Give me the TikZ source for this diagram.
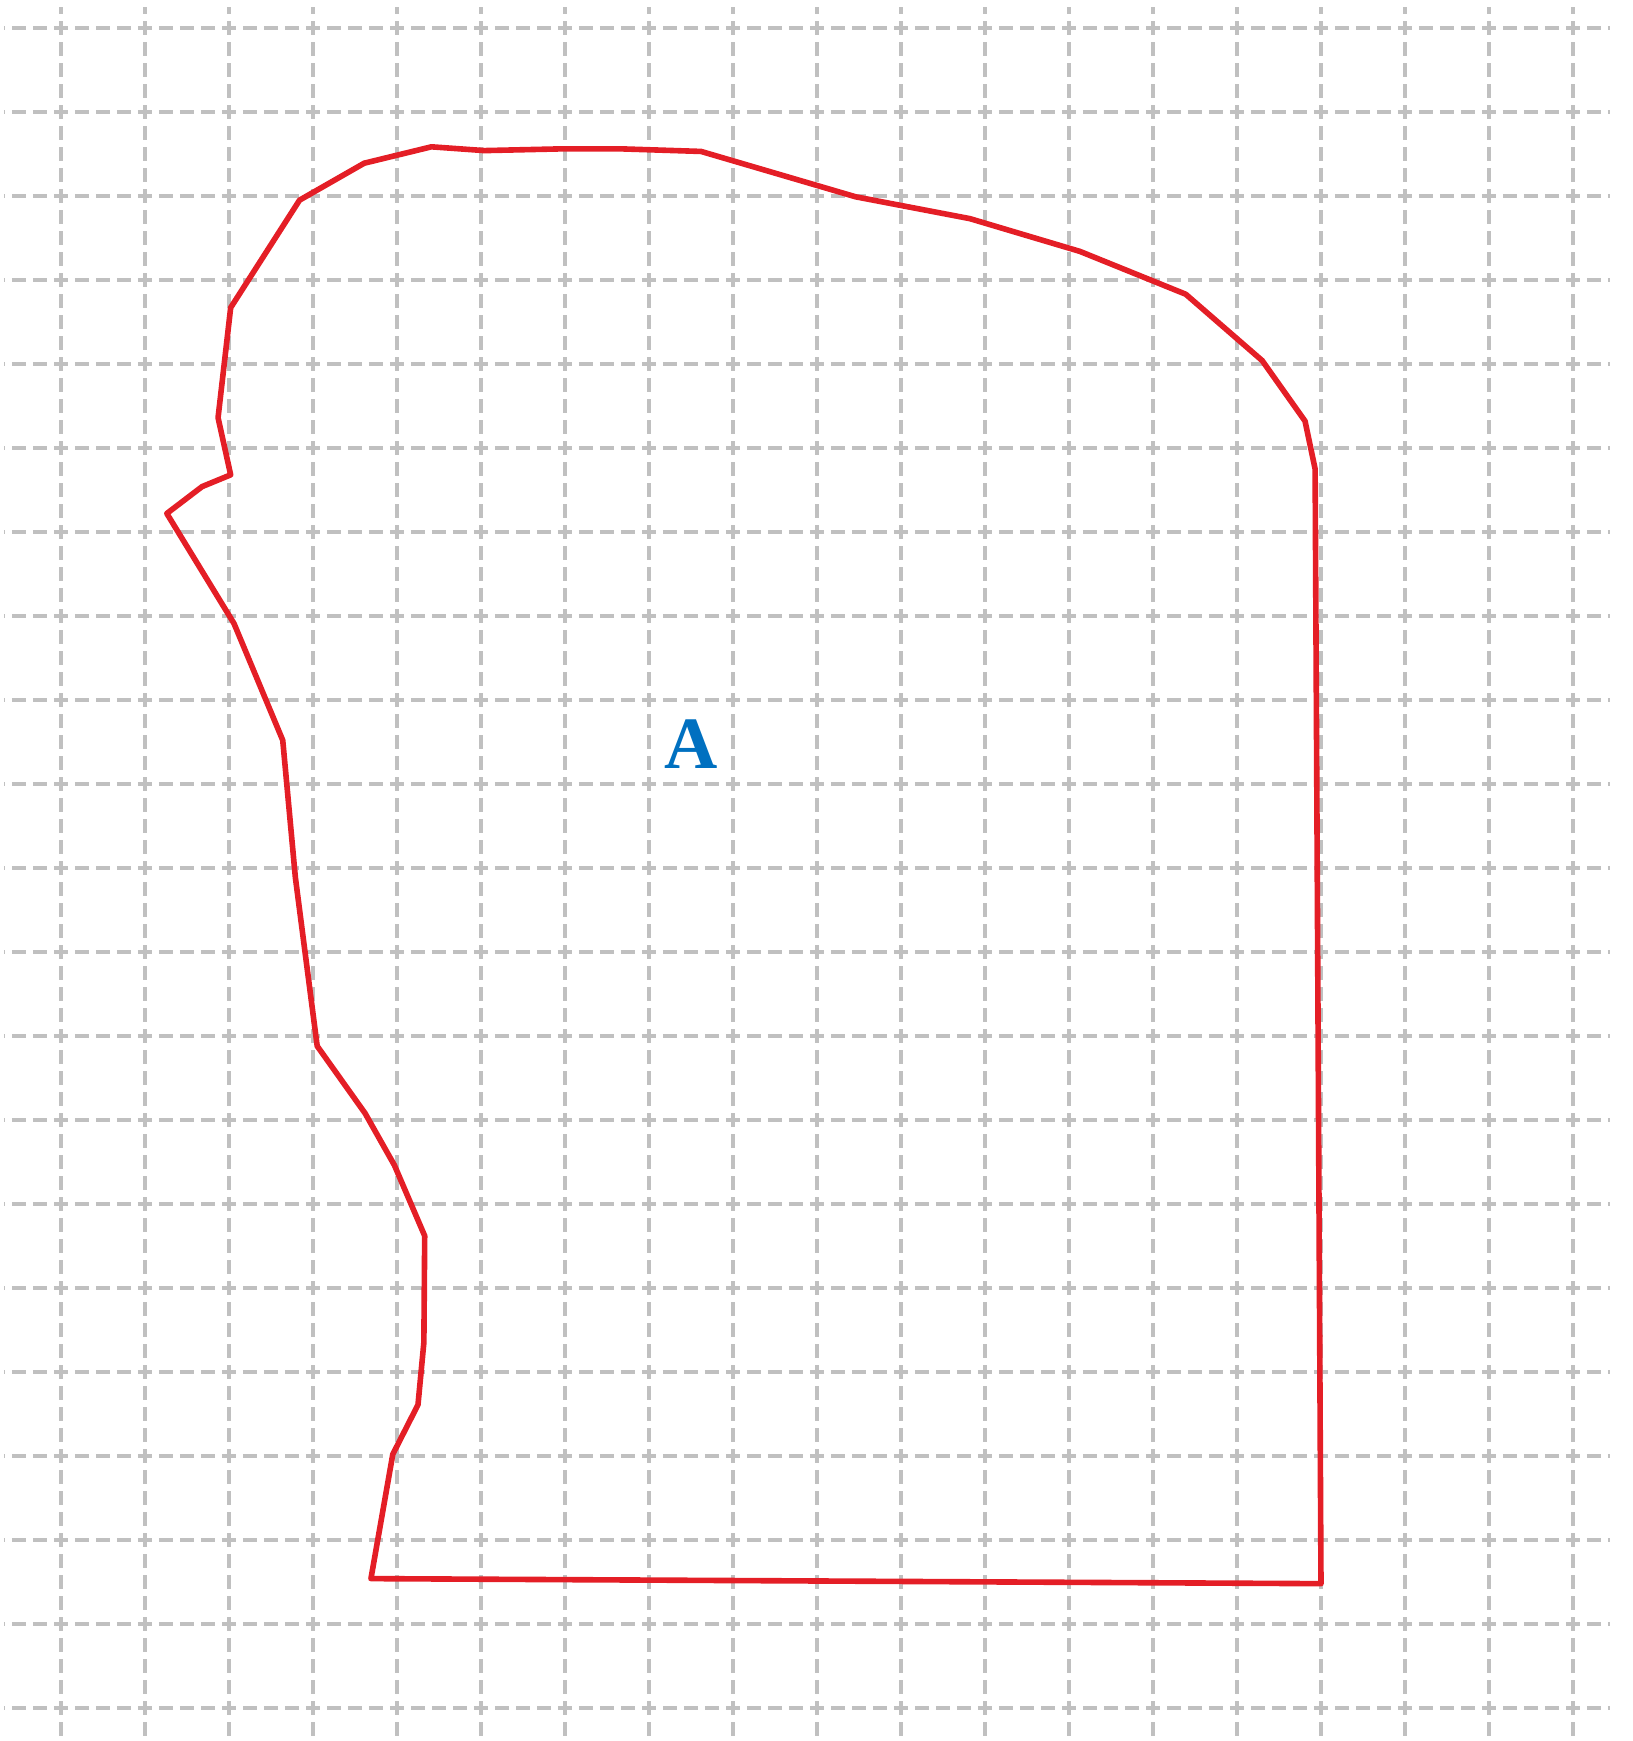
\documentclass[tikz,border=0pt]{standalone}
\usepackage{fontspec}
\setmainfont{Liberation Serif}
\definecolor{grid_grey}{RGB}{192,192,192}
\definecolor{outline_red}{RGB}{228,30,38}
\definecolor{label_blue}{RGB}{0,112,192}

\begin{document}
\begin{tikzpicture}[
    gridline/.style={grid_grey, line width=1.2pt, dash pattern=on 0.17cm off 0.08cm},
    outline/.style={outline_red, line width=1.9pt, line join=round},
    region/.style={text=label_blue, font=\fontsize{25}{25}\selectfont\bfseries}
]
    \useasboundingbox (-0.726,-0.393) rectangle (18.714,20.333);

    % Dashed grid
    \foreach \x in {0,...,18}
        \draw[gridline, dash phase=0cm] (\x,-0.333) -- (\x,20.25);
    \foreach \y in {0,...,20}
        \draw[gridline, dash phase=0.156cm] (-0.679,\y) -- (18.44,\y);

    % Outline of the region
    \draw[outline] (4.41,18.585) -- (5.04,18.54) -- (5.93,18.56) -- (6.69,18.56)
        -- (7.62,18.53) -- (9.46,17.99) -- (10.82,17.73) -- (12.13,17.34)
        -- (13.39,16.83) -- (14.30,16.04) -- (14.81,15.32) -- (14.93,14.75)
        -- (15.00,1.48) -- (3.69,1.54) -- (3.95,3.02) -- (4.25,3.61)
        -- (4.32,4.35) -- (4.33,5.62) -- (3.97,6.46) -- (3.62,7.08)
        -- (3.05,7.88) -- (2.79,9.89) -- (2.64,11.52) -- (2.06,12.91)
        -- (1.26,14.22) -- (1.68,14.54) -- (2.02,14.68) -- (1.87,15.36)
        -- (2.02,16.67) -- (2.84,17.95) -- (3.61,18.39) -- cycle;

    % Label
    \node[region] (lblA) at (7.5,11.48) {A};
\end{tikzpicture}
\end{document}
